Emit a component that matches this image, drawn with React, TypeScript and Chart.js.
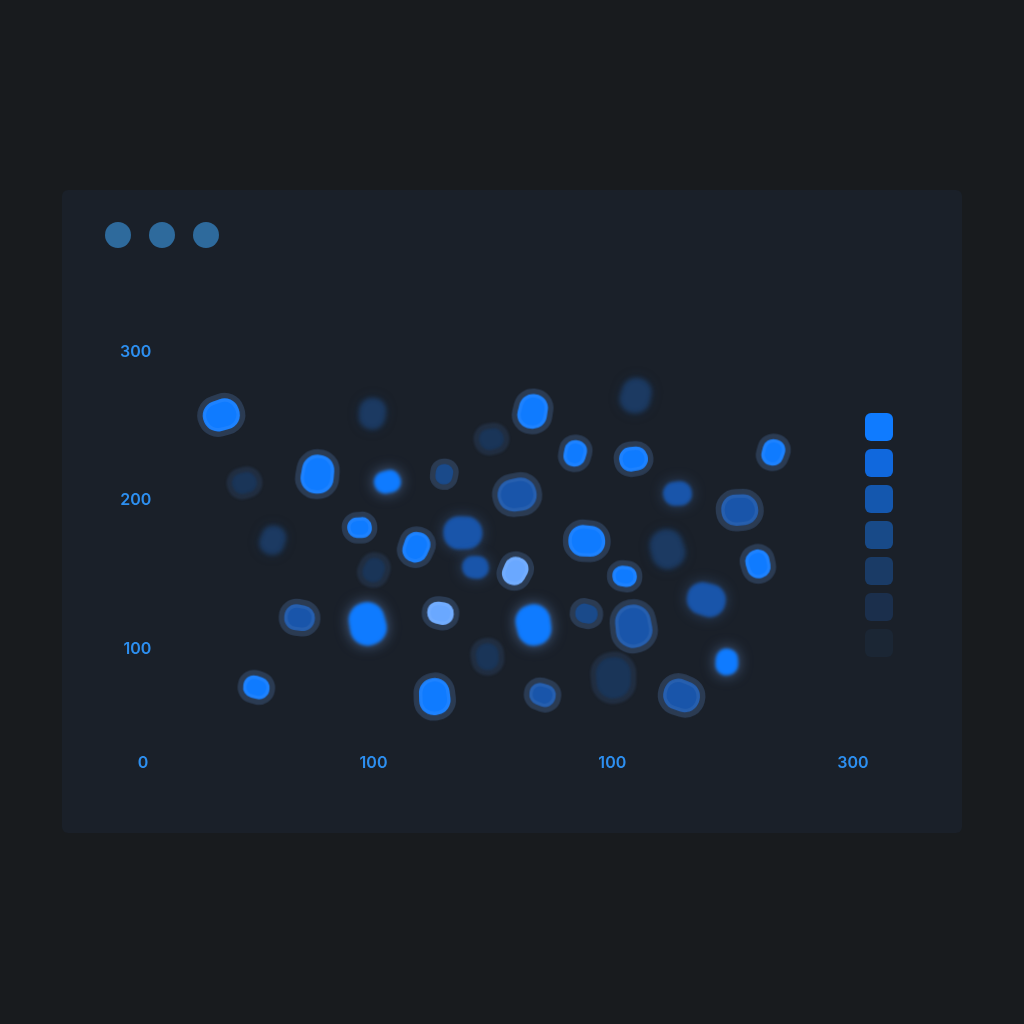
import React, { useEffect, useRef } from "react";
import { Chart, registerables } from "chart.js";

Chart.register(...registerables);

// ---- data ----
const xValues = [
  33.4, 96.8, 42.7, 73.9, 103.5, 127.2, 147.0, 164.8, 158.4, 182.5,
  207.0, 208.3, 226.1, 266.2, 251.8, 54.9, 91.7, 115.4, 134.8, 97.6,
  140.7, 157.2, 187.2, 221.8, 203.7, 259.7, 65.9, 95.1, 125.9, 164.8,
  187.2, 207.5, 238.3, 145.4, 47.7, 123.4, 169.0, 198.6, 227.3, 246.8,
];
const yValues = [
  257.4, 258.7, 211.7, 217.1, 212.4, 217.8, 241.3, 259.4, 203.7, 231.9,
  227.9, 270.1, 204.4, 232.6, 193.6, 172.8, 181.5, 168.8, 178.2, 152.7,
  154.7, 152.7, 172.8, 166.8, 148.7, 157.4, 121.1, 116.4, 123.8, 116.4,
  123.8, 114.8, 132.9, 95.0, 74.2, 67.4, 68.8, 80.9, 68.8, 90.9,
];
const magnitudes = [
  18, 15, 12, 19, 13, 10, 12, 17, 19, 13,
  14, 17, 14, 13, 18, 14, 12, 15, 19, 12,
  13, 14, 18, 19, 12, 14, 15, 21, 13, 20,
  11, 21, 19, 13, 13, 18, 13, 20, 18, 13,
];
// 0 bright, 1 highlight, 2 medium, 3 deep, 4 dark, 5 faded
const levels = [
  0, 5, 4, 0, 0, 3, 4, 0, 2, 0,
  0, 5, 2, 0, 2, 5, 0, 0, 2, 4,
  2, 1, 0, 5, 0, 0, 2, 0, 1, 0,
  3, 2, 2, 4, 0, 0, 2, 4, 2, 0,
];
// o = outlined, g = glowing, f = faint
const states = [
  "o", "f", "o", "o", "g", "o", "o", "o", "o", "o",
  "o", "f", "g", "o", "o", "f", "o", "o", "g", "o",
  "g", "o", "o", "f", "o", "o", "o", "g", "o", "g",
  "o", "o", "g", "o", "o", "o", "o", "o", "o", "g",
];
const xTickValues = [0, 97.4, 198.3, 300];
const xTickLabels = ["0", "100", "100", "300"];
const yTickValues = [100, 200, 300];
const yTickLabels = ["100", "200", "300"];
const legendSteps = ["#0f7bff", "#1068dd", "#1457ae", "#184a88", "#1a3b66", "#1b2f4c", "#1b2634"];

const levelColors = ["#0f7bff", "#6aa8ff", "#1955aa", "#1a4a8a", "#1a3558", "#1c3a62"];
const TICK_COLOR = "#2d8ff0";

function blobPath(ctx: CanvasRenderingContext2D, cx: number, cy: number, r: number, i: number) {
  const n = 4;
  const rot = Math.PI / 4 + ((((i * 23) % 44) - 22) * Math.PI) / 180;
  const jit = [0.0, 0.16, -0.1, 0.08];
  const mults = [1.02, 0.92, 1.07, 0.95];
  const R = r * 1.36;
  const pts: [number, number][] = [];
  for (let k = 0; k < n; k++) {
    const a = rot + (k * Math.PI) / 2 + jit[(k + i) % n];
    const m = mults[(k + 3 * i) % n];
    pts.push([cx + Math.cos(a) * R * m, cy + Math.sin(a) * R * m]);
  }
  const rr = R * 0.6;
  const last = pts[n - 1];
  ctx.beginPath();
  ctx.moveTo((last[0] + pts[0][0]) / 2, (last[1] + pts[0][1]) / 2);
  for (let k = 0; k < n; k++) {
    const p = pts[k];
    const q = pts[(k + 1) % n];
    ctx.arcTo(p[0], p[1], (p[0] + q[0]) / 2, (p[1] + q[1]) / 2, rr);
  }
  ctx.closePath();
}

function makeSprite(i: number): HTMLCanvasElement {
  const r = magnitudes[i];
  const lvl = levels[i];
  const st = states[i];
  const S = Math.ceil(r * 3 + 48);
  const c = document.createElement("canvas");
  c.width = S;
  c.height = S;
  const ctx = c.getContext("2d")!;
  const cx = S / 2;
  const cy = S / 2;
  const color = levelColors[lvl];
  if (st === "o") {
    ctx.save();
    ctx.filter = lvl >= 4 ? "blur(1.2px)" : "blur(0.4px)";
    blobPath(ctx, cx, cy, r, i);
    ctx.lineJoin = "round";
    ctx.lineWidth = 11;
    ctx.strokeStyle = lvl >= 4 ? "rgba(40,58,86,0.55)" : "rgba(60,86,124,0.5)";
    ctx.stroke();
    ctx.fillStyle = color;
    ctx.fill();
    if (lvl < 3) {
      ctx.clip();
      ctx.lineWidth = 7;
      ctx.strokeStyle = "rgba(255,255,255,0.06)";
      ctx.stroke();
    }
    ctx.restore();
  } else if (st === "g") {
    ctx.save();
    ctx.filter = "blur(1.8px)";
    ctx.shadowColor = lvl === 0 ? "rgba(110,150,215,0.6)" : "rgba(70,110,170,0.45)";
    ctx.shadowBlur = 14;
    blobPath(ctx, cx, cy, r, i);
    ctx.fillStyle = color;
    ctx.fill();
    ctx.restore();
  } else {
    ctx.save();
    ctx.filter = "blur(2px)";
    ctx.shadowColor = "rgba(30,60,100,0.5)";
    ctx.shadowBlur = 10;
    blobPath(ctx, cx, cy, r, i);
    ctx.fillStyle = color;
    ctx.fill();
    ctx.restore();
  }
  return c;
}

export default function App() {
  const ref = useRef<HTMLCanvasElement | null>(null);

  useEffect(() => {
    const canvas = ref.current;
    if (!canvas) return;
    const sprites = xValues.map((_, i) => makeSprite(i));
    const points = xValues.map((x, i) => ({ x, y: yValues[i] }));
    const font = { family: "Inter", size: 16, weight: 600 as any };
    const chart = new Chart(canvas, {
      type: "scatter",
      data: {
        datasets: [
          {
            data: points,
            pointStyle: (c: any) => sprites[c.dataIndex],
            pointRadius: (c: any) => magnitudes[c.dataIndex] || 10,
            clip: false as any,
          },
        ],
      },
      options: {
        responsive: false,
        animation: false,
        events: [],
        layout: { padding: { top: 90, right: 109, left: 0, bottom: 0 } },
        plugins: { legend: { display: false }, tooltip: { enabled: false } },
        scales: {
          x: {
            type: "linear",
            min: -5.49,
            max: 300,
            afterBuildTicks: (s: any) => {
              s.ticks = xTickValues.map((v) => ({ value: v }));
            },
            afterFit: (s: any) => {
              s.height = 88;
            },
            ticks: {
              callback: (v: any) => xTickLabels[xTickValues.indexOf(Number(v))],
              color: TICK_COLOR,
              font,
              padding: 9,
              maxRotation: 0,
              autoSkip: false,
            },
            grid: { display: false, drawTicks: false },
            border: { display: false },
          },
          y: {
            type: "linear",
            min: 35.2,
            max: 348.3,
            afterBuildTicks: (s: any) => {
              s.ticks = yTickValues.map((v) => ({ value: v }));
            },
            afterFit: (s: any) => {
              s.width = 68;
            },
            ticks: {
              callback: (v: any) => yTickLabels[yTickValues.indexOf(Number(v))],
              color: TICK_COLOR,
              font,
              mirror: true,
              crossAlign: "far",
              padding: -10,
              autoSkip: false,
            },
            grid: { display: false, drawTicks: false },
            border: { display: false },
          },
        },
      },
    });
    return () => chart.destroy();
  }, []);

  return (
    <div
      style={{
        position: "fixed",
        left: 0,
        top: 0,
        width: 1024,
        height: 1024,
        background: "#181b1e",
        fontFamily: "Inter, sans-serif",
      }}
    >
      <div
        style={{
          position: "absolute",
          left: 62,
          top: 190,
          width: 900,
          height: 643,
          background: "#1a2029",
          borderRadius: 6,
          overflow: "hidden",
        }}
      >
        <canvas ref={ref} width={900} height={643} style={{ position: "absolute", left: 0, top: 0, width: 900, height: 643 }} />
        {[0, 1, 2].map((k) => (
          <div
            key={k}
            style={{
              position: "absolute",
              left: 43 + k * 44,
              top: 32,
              width: 26,
              height: 26,
              borderRadius: 13,
              background: "#2e6a9c",
            }}
          />
        ))}
        {legendSteps.map((c, k) => (
          <div
            key={c}
            style={{
              position: "absolute",
              left: 803,
              top: 223 + k * 36,
              width: 28,
              height: 28,
              borderRadius: 6,
              background: c,
            }}
          />
        ))}
      </div>
    </div>
  );
}
